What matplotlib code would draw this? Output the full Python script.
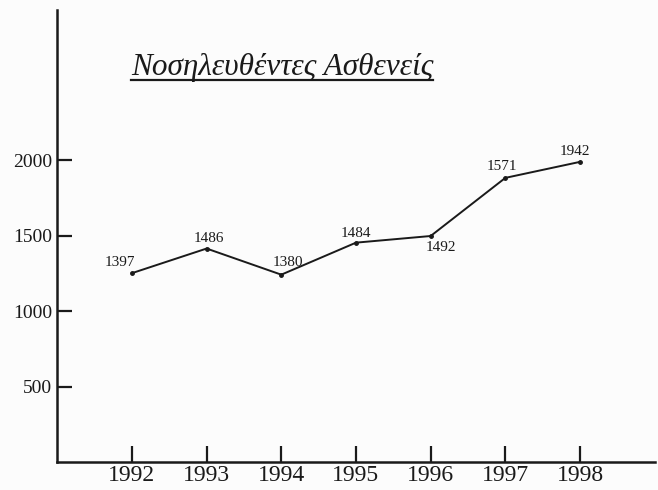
import matplotlib
matplotlib.use("Agg")
import matplotlib.pyplot as plt
from matplotlib.lines import Line2D

# Χρονιές και τιμές (θέσεις σημείων όπως φαίνονται στο γράφημα)
years = [1992, 1993, 1994, 1995, 1996, 1997, 1998]
plotted = [1251, 1414, 1241, 1453, 1497, 1882, 1988]
point_labels = ["1397", "1486", "1380", "1484", "1492", "1571", "1942"]
label_offsets = [(-12, 11), (2, 10), (7, 12), (0, 9), (10, -11), (-3, 11), (-5, 10)]
y_ticks = [500, 1000, 1500, 2000]
title = "Νοσηλευθέντες Ασθενείς"

plt.rcParams['font.family'] = ['Liberation Serif', 'DejaVu Serif']
ink = '#1a1a1a'

fig = plt.figure(figsize=(6.58, 4.90), dpi=100, facecolor='#fcfcfc')
ax = fig.add_axes([0.087, 0.057, 0.908, 0.923])
ax.set_facecolor('#fcfcfc')

ax.plot(years, plotted, color=ink, lw=1.4, marker='o', markersize=2.5)

for x, y, lab, off in zip(years, plotted, point_labels, label_offsets):
    ax.annotate(lab, (x, y), xytext=off, textcoords='offset pixels',
                ha='center', va='center', fontsize=11, color=ink)

ax.set_xlim(1991, 1999)
ax.set_ylim(0, 2995)
ax.set_xticks(years)
ax.set_yticks(y_ticks)
ax.tick_params(axis='x', direction='in', length=11.5, width=1.6, labelsize=17,
               colors=ink, pad=2)
ax.tick_params(axis='y', direction='in', length=11, width=1.6, labelsize=14,
               colors=ink, pad=3.5)

for s in ['top', 'right']:
    ax.spines[s].set_visible(False)
for s in ['left', 'bottom']:
    ax.spines[s].set_linewidth(1.8)
    ax.spines[s].set_color(ink)

# Τίτλος με υπογράμμιση
t = fig.text(282 / 658, 1 - 75 / 490, title, ha='center', va='baseline',
             fontsize=22.5, style='italic', color=ink)
fig.canvas.draw()
bb = t.get_window_extent().transformed(fig.transFigure.inverted())
fig.add_artist(Line2D([bb.x0, bb.x1], [1 - 79.5 / 490] * 2, color=ink, lw=1.6,
                      transform=fig.transFigure))

fig.savefig("out.png", dpi=100, facecolor=fig.get_facecolor())
